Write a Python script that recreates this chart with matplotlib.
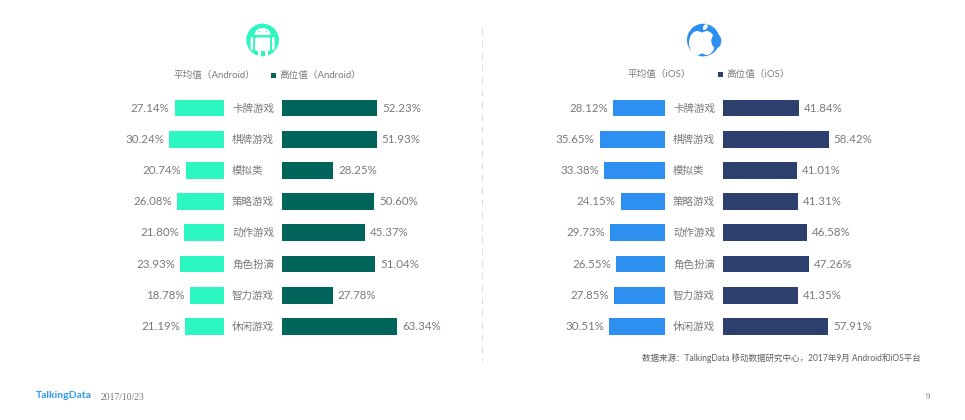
import matplotlib
matplotlib.use("Agg")
import matplotlib.pyplot as plt
from matplotlib.patches import Circle, Rectangle, Ellipse, FancyBboxPatch

W, H = 965, 420
FONT = ['Lato', 'Noto Sans CJK SC', 'DejaVu Sans']
plt.rcParams['font.family'] = FONT

categories = ['卡牌游戏', '棋牌游戏', '模拟类', '策略游戏', '动作游戏', '角色扮演', '智力游戏', '休闲游戏']
android_avg = [27.14, 30.24, 20.74, 26.08, 21.80, 23.93, 18.78, 21.19]
android_high = [52.23, 51.93, 28.25, 50.60, 45.37, 51.04, 27.78, 63.34]
ios_avg = [28.12, 35.65, 33.38, 24.15, 29.73, 26.55, 27.85, 30.51]
ios_high = [41.84, 58.42, 41.01, 41.31, 46.58, 47.26, 41.35, 57.91]

MINT, TEAL, BLUE, NAVY = '#2DF7C0', '#01645A', '#2D8FF0', '#2C3F6D'
GRAY = '#7a7a7a'
PX_PER_PCT = 1.82
TOP, BOTTOM = 92.4, 342.1

fig = plt.figure(figsize=(W / 100, H / 100), dpi=100, facecolor='white')


def bar_axes(x0, x1, reverse):
    ax = fig.add_axes([x0 / W, 1 - BOTTOM / H, (x1 - x0) / W, (BOTTOM - TOP) / H])
    span = (x1 - x0) / PX_PER_PCT
    if reverse:
        ax.set_xlim(span, 0)
    else:
        ax.set_xlim(0, span)
    ax.set_ylim(len(categories) - 0.5, -0.5)
    ax.axis('off')
    ax.patch.set_alpha(0)
    return ax


def draw(ax, values, color, reverse):
    ypos = range(len(values))
    ax.barh(ypos, values, height=0.54, color=color, edgecolor='none')
    for y, v in zip(ypos, values):
        ax.annotate(f'{v:.2f}%', (v, y), xytext=(-3.6 if reverse else 3.6, 0),
                    textcoords='offset points',
                    ha='right' if reverse else 'left', va='center',
                    fontsize=8.3, color=GRAY, annotation_clip=False)


panels = [
    (android_avg, android_high, MINT, TEAL, 224, 282, 232),
    (ios_avg, ios_high, BLUE, NAVY, 664.5, 722.5, 673),
]
for avg, high, c1, c2, right_edge, left_edge, label_x in panels:
    a = bar_axes(right_edge - 110, right_edge, True)
    b = bar_axes(left_edge, left_edge + 130, False)
    draw(a, avg, c1, True)
    draw(b, high, c2, False)
    for i, cat in enumerate(categories):
        fig.text(label_x / W, 1 - (108 + i * 31.2) / H, cat, ha='left', va='center',
                 fontsize=7.6, color=GRAY)

# overlay in pixel coordinates for icons, legend and page furniture
ov = fig.add_axes([0, 0, 1, 1], zorder=5)
ov.set_xlim(0, W)
ov.set_ylim(H, 0)
ov.axis('off')
ov.patch.set_alpha(0)


def t(x, y, s, size, color=GRAY, ha='left', **kw):
    ov.text(x, y, s, fontsize=size, color=color, ha=ha, va='center', **kw)


# legends
t(174, 75.5, '平均值（Android）', 6.9)
ov.add_patch(Rectangle((271, 72.5), 5, 5, color=TEAL, lw=0))
t(279, 75.5, '高位值（Android）', 6.9)
t(627.5, 74.5, '平均值（iOS）', 6.9)
ov.add_patch(Rectangle((718, 71.5), 5, 5, color=NAVY, lw=0))
t(726, 74.5, '高位值（iOS）', 6.9)

# divider
ov.plot([482, 482], [28, 361], color='#dddddd', lw=0.8, ls=(0, (6, 5)))

# android icon
cx, cy = 262.6, 40
ov.add_patch(Circle((cx, cy), 16.3, color=MINT, lw=0))
ov.add_patch(Ellipse((cx, cy - 5.5), 16, 13, color='white', lw=0))
ov.add_patch(Rectangle((cx - 8.5, cy - 5.5), 17, 3.2, color=MINT, lw=0))
ov.add_patch(FancyBboxPatch((cx - 7.5, cy - 2.5), 15, 13.5, boxstyle='round,pad=0,rounding_size=1.5',
                            color='white', lw=0))
for dx in (-12, 9.4):
    ov.add_patch(FancyBboxPatch((cx + dx, cy - 3), 2.6, 13,
                                boxstyle='round,pad=0,rounding_size=1', color='white', lw=0))
for dx in (-5, 2):
    ov.add_patch(Rectangle((cx + dx, cy + 10), 3, 6.2, color='white', lw=0))
for dx in (-3.5, 3.5):
    ov.add_patch(Circle((cx + dx, cy - 8.5), 0.7, color=MINT, lw=0))

# apple icon
ax0, ay0 = 703.3, 40
ov.add_patch(Circle((ax0, ay0), 16.3, color=BLUE, lw=0))
ov.add_patch(Ellipse((ax0 - 5.8, ay0 + 3), 17, 24, color='white', lw=0))
ov.add_patch(Ellipse((ax0 + 3.2, ay0 + 3), 17, 24, color='white', lw=0))
ov.add_patch(Ellipse((ax0 + 13, ay0 + 1), 10, 14, color=BLUE, lw=0))
ov.add_patch(Ellipse((ax0 - 1.2, ay0 - 9.5), 7, 2.8, color=BLUE, lw=0))
ov.add_patch(Ellipse((ax0 - 1.2, ay0 + 15.2), 5, 2.2, color=BLUE, lw=0))
ov.add_patch(Ellipse((ax0 + 2, ay0 - 13), 4, 6.5, angle=35, color='white', lw=0))

# source and footer
t(921, 358.5, '数据来源：TalkingData 移动数据研究中心，2017年9月 Android和iOS平台', 6.15,
  color='#5f5f5f', ha='right')
t(36, 396, 'TalkingData', 7.5, color='#2E9BF0', fontweight='bold')
t(101, 397, '2017/10/23', 6.9, color='#777777', family=['Liberation Serif'])
t(930, 397, '9', 6.4, color='#777777', ha='right', family=['Liberation Serif'])

fig.savefig('out.png', dpi=100, facecolor='white')
